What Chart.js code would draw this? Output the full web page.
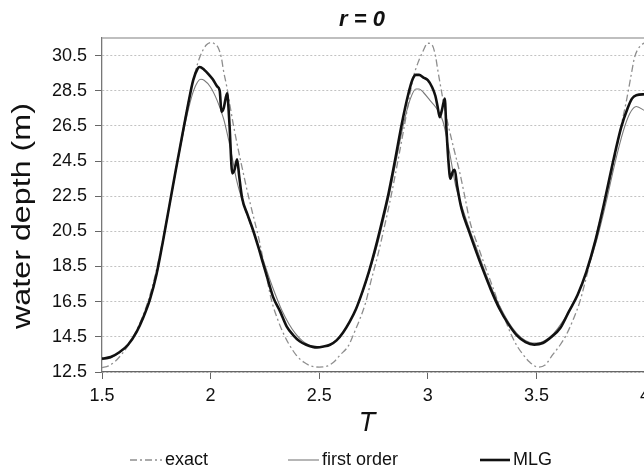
<!DOCTYPE html>
<html>
<head>
<meta charset="utf-8">
<title>r = 0</title>
<script src="https://cdn.jsdelivr.net/npm/chart.js@4.4.1/dist/chart.umd.min.js"></script>
<style>
  html, body { margin: 0; padding: 0; background: #fff; overflow: hidden; }
  #wrap { width: 656px; height: 470px; }
</style>
</head>
<body>
<div id="wrap"><canvas id="depthChart"></canvas></div>
<script>
// Water depth over time T, three solutions
const tExact = [1.50,1.53,1.56,1.59,1.62,1.65,1.68,1.71,1.74,1.77,1.80,1.83,1.86,1.89,1.91,1.93,1.95,1.98,2.005,2.02,
  2.035,2.05,2.06,2.075,2.09,2.105,2.12,2.135,2.15,2.165,2.19,2.22,2.25,2.28,2.31,2.335,2.36,2.395,2.43,2.46,
  2.50,2.54,2.57,2.595,2.635,2.66,2.69,2.715,2.74,2.77,2.80,2.83,2.86,2.89,2.91,2.93,2.955,2.978,3.00,3.02,
  3.035,3.047,3.07,3.093,3.12,3.147,3.17,3.193,3.23,3.27,3.30,3.323,3.355,3.385,3.41,3.438,3.47,3.507,3.54,3.576,
  3.61,3.637,3.67,3.70,3.74,3.776,3.815,3.852,3.885,3.914,3.935,3.952,3.975,4.00];
const exact = [12.75,12.85,13.10,13.50,14.00,14.65,15.45,16.45,17.75,19.40,21.30,23.30,25.40,27.40,28.60,29.60,30.40,31.10,31.25,31.15,
  30.95,30.35,29.60,28.70,27.60,26.55,25.60,24.70,23.85,23.00,21.70,20.20,18.40,16.60,15.45,14.70,14.10,13.45,13.05,12.85,
  12.78,12.85,13.10,13.45,14.00,14.70,15.60,16.50,17.75,19.15,20.75,22.45,24.35,26.35,27.75,29.10,30.10,30.75,31.20,31.10,
  30.50,29.60,28.00,26.60,25.20,23.85,22.50,21.10,19.70,18.30,17.30,16.50,15.50,14.60,14.00,13.50,13.05,12.78,12.90,13.50,
  14.05,14.60,15.50,16.50,18.40,20.30,22.20,24.10,26.20,27.90,29.30,30.40,31.00,31.25];

const tFirst = [1.50,1.54,1.58,1.62,1.66,1.69,1.72,1.75,1.78,1.81,1.84,1.87,1.90,1.92,1.94,1.955,1.97,2.00,2.03,2.06,
  2.09,2.12,2.15,2.18,2.21,2.24,2.27,2.30,2.33,2.36,2.39,2.42,2.45,2.48,2.50,2.53,2.56,2.59,2.62,2.65,
  2.68,2.71,2.74,2.77,2.80,2.83,2.86,2.89,2.92,2.945,2.96,2.98,3.01,3.04,3.07,3.10,3.13,3.16,3.19,3.23,
  3.27,3.31,3.35,3.39,3.43,3.47,3.50,3.54,3.58,3.62,3.66,3.70,3.74,3.78,3.82,3.86,3.90,3.93,3.96,4.00];
const firstOrder = [13.20,13.30,13.60,14.05,14.80,15.60,16.60,17.95,19.85,21.90,23.95,25.85,27.55,28.45,29.00,29.15,29.10,28.70,27.95,26.90,
  25.30,23.40,22.10,21.05,20.00,18.95,17.85,16.85,15.95,15.25,14.70,14.30,14.05,13.95,13.93,13.98,14.15,14.45,14.95,15.60,
  16.40,17.40,18.55,19.85,21.35,23.00,24.90,26.70,28.05,28.60,28.60,28.40,27.95,27.50,26.75,25.00,23.00,21.80,20.70,19.35,
  18.00,16.80,15.80,15.00,14.45,14.18,14.15,14.30,14.70,15.35,16.20,17.20,18.50,20.10,22.10,24.30,26.20,27.20,27.60,27.35];

const tMLG = [1.50,1.54,1.58,1.62,1.66,1.69,1.72,1.75,1.78,1.81,1.84,1.87,1.90,1.92,1.94,1.95,1.97,1.99,2.01,2.03,
  2.042,2.05,2.06,2.076,2.086,2.10,2.11,2.122,2.132,2.145,2.17,2.196,2.22,2.242,2.265,2.288,2.32,2.35,2.38,2.41,
  2.44,2.47,2.49,2.52,2.55,2.58,2.61,2.64,2.67,2.70,2.73,2.76,2.79,2.82,2.85,2.88,2.91,2.93,2.945,2.96,
  2.98,3.00,3.02,3.035,3.045,3.055,3.065,3.078,3.085,3.095,3.104,3.115,3.124,3.135,3.155,3.19,3.22,3.25,3.29,3.33,
  3.37,3.41,3.45,3.49,3.53,3.57,3.61,3.65,3.69,3.73,3.77,3.81,3.85,3.89,3.92,3.94,3.96,4.00];
const mlg = [13.26,13.35,13.62,14.05,14.80,15.60,16.60,18.00,19.90,21.95,24.00,26.00,27.95,29.10,29.75,29.85,29.70,29.45,29.15,28.75,
  28.50,27.30,27.50,28.35,26.80,23.80,24.00,24.60,23.60,22.40,21.45,20.55,19.60,18.66,17.70,16.76,15.95,15.10,14.60,14.25,
  14.05,13.93,13.90,13.95,14.05,14.30,14.75,15.35,16.10,17.10,18.25,19.60,21.10,22.70,24.60,26.60,28.30,29.15,29.40,29.40,
  29.25,29.10,28.70,28.20,27.60,27.00,27.40,28.05,26.50,24.50,23.50,23.90,24.00,23.10,21.80,20.50,19.45,18.45,17.20,16.10,
  15.25,14.58,14.20,14.06,14.15,14.50,15.00,15.95,16.90,18.20,19.90,22.00,24.30,26.40,27.50,28.05,28.25,28.30];

const xTicks = [1.5, 2, 2.5, 3, 3.5, 4];
const yTicks = [12.5, 14.5, 16.5, 18.5, 20.5, 22.5, 24.5, 26.5, 28.5, 30.5];

const FONT = "'Liberation Sans', Arial, sans-serif";

const toPoints = (ts, vs) => ts.map((t, i) => ({ x: t, y: vs[i] }));

// Title, axis titles, top frame line and the legend row
const decorations = {
  id: 'decorations',
  afterDraw(chart) {
    const { ctx, chartArea } = chart;
    ctx.save();

    ctx.strokeStyle = '#aaaaaa';
    ctx.lineWidth = 1.5;
    ctx.beginPath();
    ctx.moveTo(chartArea.left, chartArea.top);
    ctx.lineTo(chartArea.right, chartArea.top);
    ctx.stroke();

    ctx.fillStyle = '#111';
    ctx.textAlign = 'center';
    ctx.textBaseline = 'middle';

    ctx.font = `italic bold 22px ${FONT}`;
    ctx.fillText('r = 0', 362, 20);

    ctx.font = `italic 27px ${FONT}`;
    ctx.fillText('T', 367, 423);

    // y title, stretched along its length to span the axis
    ctx.save();
    ctx.translate(23, 216);
    ctx.rotate(-Math.PI / 2);
    ctx.font = `25px ${FONT}`;
    const label = 'water depth (m)';
    const stretch = 226 / ctx.measureText(label).width;
    ctx.scale(stretch, 1);
    ctx.fillText(label, 0, 0);
    ctx.restore();

    // legend: sample line + label, one entry per dataset
    const slots = [[130, 165], [288, 322], [480, 513]];
    const y = 460;
    ctx.font = `18px ${FONT}`;
    ctx.textAlign = 'left';
    chart.data.datasets.forEach((ds, i) => {
      const [x0, tx] = slots[i];
      ctx.save();
      ctx.strokeStyle = ds.borderColor;
      ctx.lineWidth = ds.borderWidth;
      ctx.setLineDash(ds.borderDash || []);
      ctx.beginPath();
      ctx.moveTo(x0, y);
      ctx.lineTo(tx - 3, y);
      ctx.stroke();
      ctx.restore();
      ctx.fillText(ds.label, tx, y);
    });

    ctx.restore();
  }
};

new Chart(document.getElementById('depthChart'), {
  type: 'line',
  data: {
    datasets: [
      {
        label: 'exact',
        data: toPoints(tExact, exact),
        borderColor: '#8e8e8e',
        borderWidth: 1.3,
        borderDash: [7, 3, 2, 3],
        order: 3
      },
      {
        label: 'first order',
        data: toPoints(tFirst, firstOrder),
        borderColor: '#7a7a7a',
        borderWidth: 1.1,
        order: 2
      },
      {
        label: 'MLG',
        data: toPoints(tMLG, mlg),
        borderColor: '#111111',
        borderWidth: 2.6,
        order: 1
      }
    ]
  },
  options: {
    responsive: true,
    maintainAspectRatio: false,
    animation: false,
    layout: { padding: { top: 38, right: 10, left: 0, bottom: 0 } },
    elements: {
      point: { radius: 0 },
      line: { cubicInterpolationMode: 'monotone', borderJoinStyle: 'round', fill: false }
    },
    plugins: {
      legend: { display: false },
      tooltip: { enabled: false }
    },
    scales: {
      x: {
        type: 'linear',
        min: 1.5,
        max: 4,
        afterBuildTicks: s => { s.ticks = xTicks.map(v => ({ value: v })); },
        afterFit: s => { s.height = 98; },
        grid: { drawOnChartArea: false, tickLength: 7, tickColor: '#666' },
        border: { color: '#666', width: 1.3 },
        ticks: {
          padding: 6,
          color: '#111',
          font: { family: FONT, size: 18 },
          maxRotation: 0,
          callback: v => String(v)
        }
      },
      y: {
        min: 12.5,
        max: 31.5,
        afterBuildTicks: s => { s.ticks = yTicks.map(v => ({ value: v })); },
        afterFit: s => { s.width = 102; },
        grid: { color: '#c2c2c2', tickLength: 7, tickColor: '#666' },
        border: { color: '#777', width: 1.3, dash: [2, 2] },
        ticks: {
          padding: 8,
          color: '#111',
          font: { family: FONT, size: 18 },
          callback: v => v.toFixed(1)
        }
      }
    }
  },
  plugins: [decorations]
});
</script>
</body>
</html>
